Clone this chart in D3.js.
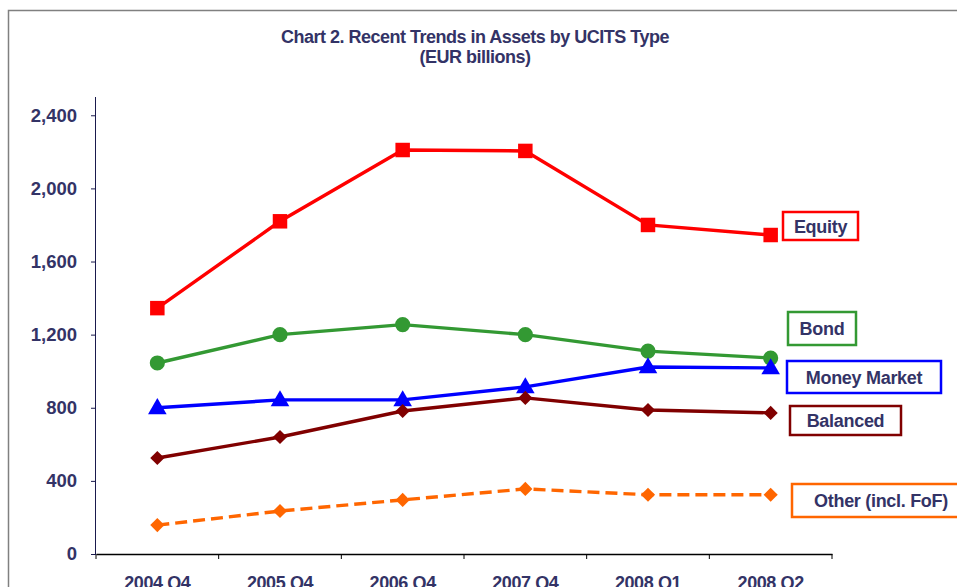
<!DOCTYPE html>
<html>
<head>
<meta charset="utf-8">
<script src="https://cdn.jsdelivr.net/npm/d3@7"></script>
<style>
  body { margin: 0; background: #fff; }
  svg { display: block; font-family: "Liberation Sans", Arial, sans-serif; }
</style>
</head>
<body>
<div id="chart"></div>
<script>
const categories = ['2004 Q4', '2005 Q4', '2006 Q4', '2007 Q4', '2008 Q1', '2008 Q2'];
const equity = [1345, 1820, 2210, 2205, 1800, 1745];
const bond = [1045, 1200, 1255, 1200, 1110, 1072];
const moneyMarket = [800, 843, 843, 914, 1023, 1018];
const balanced = [525, 640, 782, 854, 788, 772];
const other = [158, 235, 296, 356, 324, 324];
const yTicks = [0, 400, 800, 1200, 1600, 2000, 2400];

const series = [
  { name: 'Equity', values: equity, color: '#ff0000', marker: 'square', box: [783, 212, 75, 28] },
  { name: 'Bond', values: bond, color: '#339933', marker: 'circle', box: [788, 312, 68, 33] },
  { name: 'Money Market', values: moneyMarket, color: '#0000ff', marker: 'triangle', box: [787, 361, 154, 32] },
  { name: 'Balanced', values: balanced, color: '#800000', marker: 'diamond', box: [790, 406, 111, 29] },
  { name: 'Other (incl. FoF)', values: other, color: '#ff6600', marker: 'diamond', dashed: true, box: [792, 484, 178, 33] }
];

const width = 957, height = 587;
const textColor = '#333366';

const svg = d3.select('#chart').append('svg')
  .attr('width', width)
  .attr('height', height);

// outer frame (top and left edges visible)
svg.append('path')
  .attr('d', `M8.5,${height} V10.5 H${width}`)
  .attr('fill', 'none')
  .attr('stroke', '#808080')
  .attr('stroke-width', 1.5);

svg.append('text')
  .attr('x', 475).attr('y', 43)
  .attr('text-anchor', 'middle')
  .attr('fill', textColor)
  .style('font-size', '18px').style('font-weight', 'bold').style('letter-spacing', '-0.5px')
  .text('Chart 2. Recent Trends in Assets by UCITS Type');
svg.append('text')
  .attr('x', 475).attr('y', 63)
  .attr('text-anchor', 'middle')
  .attr('fill', textColor)
  .style('font-size', '18px').style('font-weight', 'bold').style('letter-spacing', '-0.5px')
  .text('(EUR billions)');

const x = d3.scaleBand().domain(categories).range([96, 832]);
const y = d3.scaleLinear().domain([0, 2500]).range([554, 97]);

const xAxis = svg.append('g')
  .attr('transform', `translate(0,${y(0)})`)
  .call(d3.axisBottom(x).tickSize(0).tickPadding(22));
xAxis.select('.domain').attr('stroke', '#000').attr('stroke-width', 1.5);
xAxis.selectAll('text')
  .attr('fill', textColor)
  .style('font-size', '18px').style('font-weight', 'bold').style('letter-spacing', '-0.4px')
  .style('font-family', '"Liberation Sans", Arial, sans-serif');

// tick marks at band boundaries
const bounds = categories.map(c => x(c)).concat([x.range()[1]]);
svg.append('g').selectAll('line')
  .data(bounds)
  .join('line')
  .attr('x1', d => d).attr('x2', d => d)
  .attr('y1', y(0)).attr('y2', y(0) + 5)
  .attr('stroke', '#000').attr('stroke-width', 1);

const yAxis = svg.append('g')
  .attr('transform', `translate(${x.range()[0]},0)`)
  .call(d3.axisLeft(y).tickValues(yTicks).tickSize(5).tickPadding(14).tickFormat(d3.format(',')));
yAxis.select('.domain').attr('stroke', '#1a1a4d').attr('stroke-width', 1)
  .attr('d', `M-0.5,${y(0)}V${y(2500)}`);
yAxis.selectAll('.tick line').attr('stroke', '#1a1a4d');
yAxis.selectAll('text')
  .attr('fill', textColor)
  .style('font-size', '18.5px').style('font-weight', 'bold')
  .style('font-family', '"Liberation Sans", Arial, sans-serif');

const cx = c => x(c) + x.bandwidth() / 2;

const line = d3.line()
  .x((d, i) => cx(categories[i]))
  .y(d => y(d));

const symbols = {
  square: d3.symbol().type(d3.symbolSquare).size(210),
  circle: d3.symbol().type(d3.symbolCircle).size(180),
  triangle: d3.symbol().type(d3.symbolTriangle).size(150),
  diamond: d3.symbol().type(d3.symbolSquare).size(100)
};

series.forEach(s => {
  svg.append('path')
    .datum(s.values)
    .attr('fill', 'none')
    .attr('stroke', s.color)
    .attr('stroke-width', 3.4)
    .attr('stroke-dasharray', s.dashed ? '12,6' : null)
    .attr('d', line);

  svg.append('g').selectAll('path')
    .data(s.values)
    .join('path')
    .attr('transform', (d, i) => {
      const t = `translate(${cx(categories[i])},${y(d) + (s.marker === 'triangle' ? 1 : 0)})`;
      return s.marker === 'diamond' ? t + ' rotate(45)' : t;
    })
    .attr('d', symbols[s.marker])
    .attr('fill', s.color);

  const [bx, by, bw, bh] = s.box;
  svg.append('rect')
    .attr('x', bx).attr('y', by)
    .attr('width', bw).attr('height', bh)
    .attr('fill', '#fff')
    .attr('stroke', s.color)
    .attr('stroke-width', 2.5);
  svg.append('text')
    .attr('x', bx + bw / 2).attr('y', by + bh / 2 + 6.5)
    .attr('text-anchor', 'middle')
    .attr('fill', textColor)
    .style('font-size', '18px').style('font-weight', 'bold').style('letter-spacing', '-0.3px')
    .text(s.name);
});
</script>
</body>
</html>
